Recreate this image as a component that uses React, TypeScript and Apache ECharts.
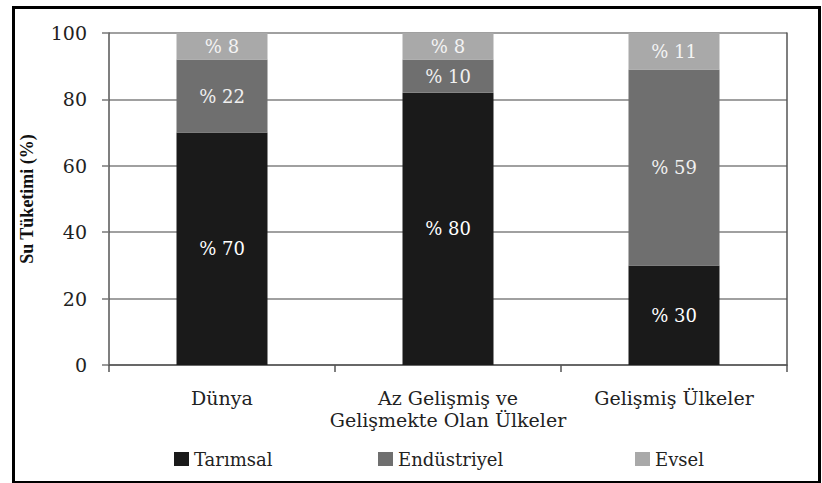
import React, { useEffect, useRef } from "react";
import * as echarts from "echarts";

const categories = ["Dünya", "Az Gelişmiş ve\nGelişmekte Olan Ülkeler", "Gelişmiş Ülkeler"];
const seriesNames = ["Tarımsal", "Endüstriyel", "Evsel"];
const tarimsal = [70, 82, 30];
const endustriyel = [22, 10, 59];
const evsel = [8, 8, 11];
const tarimsalLabels = ["% 70", "% 80", "% 30"];
const endustriyelLabels = ["% 22", "% 10", "% 59"];
const evselLabels = ["% 8", "% 8", "% 11"];
const yTicks = [0, 20, 40, 60, 80, 100];

const SERIF = "'DejaVu Serif', serif";

export default function App() {
  const ref = useRef<HTMLDivElement>(null);
  useEffect(() => {
    document.body.style.margin = "0";
    const chart = echarts.init(ref.current!, null, { renderer: "svg" });
    const mkSeries = (name: string, data: number[], labels: string[], color: string, labelColor: string) => ({
      name,
      type: "bar",
      stack: "total",
      barWidth: 91,
      data,
      itemStyle: { color },
      label: {
        show: true,
        position: "inside",
        color: labelColor,
        fontFamily: SERIF,
        fontSize: 18,
        formatter: (p: any) => labels[p.dataIndex],
      },
    });
    const legendCommon = {
      top: 450,
      padding: 0,
      icon: "rect",
      itemWidth: 15,
      itemHeight: 14,
      textStyle: { fontFamily: SERIF, fontSize: 18, color: "#222" },
    };
    chart.setOption({
      animation: false,
      backgroundColor: "#ffffff",
      grid: { left: 109, right: 35, top: 33, bottom: 118, containLabel: false },
      xAxis: {
        type: "category",
        data: categories,
        axisLine: { show: true, lineStyle: { color: "#555", width: 1.5 } },
        axisTick: { show: true, length: 7, lineStyle: { color: "#555", width: 1.5 } },
        axisLabel: {
          interval: 0,
          hideOverlap: false,
          margin: 22,
          color: "#222",
          fontFamily: SERIF,
          fontSize: 19,
          lineHeight: 22,
        },
      },
      yAxis: [
        {
          type: "value",
          min: yTicks[0],
          max: yTicks[yTicks.length - 1],
          interval: 20,
          name: "Su Tüketimi (%)",
          nameLocation: "middle",
          nameGap: 73,
          nameTextStyle: {
            fontFamily: "'Liberation Serif', serif",
            fontWeight: "bold",
            fontSize: 18,
            color: "#111",
          },
          axisLine: { show: true, lineStyle: { color: "#555", width: 1.5 } },
          axisTick: { show: true, length: 7, lineStyle: { color: "#777", width: 1.5 } },
          axisLabel: { margin: 22, color: "#222", fontFamily: SERIF, fontSize: 19 },
          splitLine: { show: true, lineStyle: { color: "#808080", width: 1.5 } },
        },
        {
          type: "value",
          min: yTicks[0],
          max: yTicks[yTicks.length - 1],
          interval: 20,
          position: "right",
          axisLine: { show: true, lineStyle: { color: "#555", width: 1.5 } },
          axisTick: { show: false },
          axisLabel: { show: false },
          splitLine: { show: false },
        },
      ],
      legend: [
        { ...legendCommon, data: [seriesNames[0]], left: 174 },
        { ...legendCommon, data: [seriesNames[1]], left: 378 },
        { ...legendCommon, data: [seriesNames[2]], left: 635 },
      ],
      graphic: [
        {
          type: "rect",
          left: 11,
          top: 5,
          shape: { x: 0, y: 0, width: 806, height: 475 },
          style: { fill: "none", stroke: "#000", lineWidth: 3 },
          silent: true,
        },
      ],
      series: [
        mkSeries(seriesNames[0], tarimsal, tarimsalLabels, "#1a1a1a", "#ffffff"),
        mkSeries(seriesNames[1], endustriyel, endustriyelLabels, "#6f6f6f", "#f0f0f0"),
        mkSeries(seriesNames[2], evsel, evselLabels, "#a9a9a9", "#f4f4f4"),
      ],
    });
    return () => chart.dispose();
  }, []);
  return (
    <div
      ref={ref}
      style={{ position: "absolute", left: 0, top: 0, width: 822, height: 483 }}
    />
  );
}
